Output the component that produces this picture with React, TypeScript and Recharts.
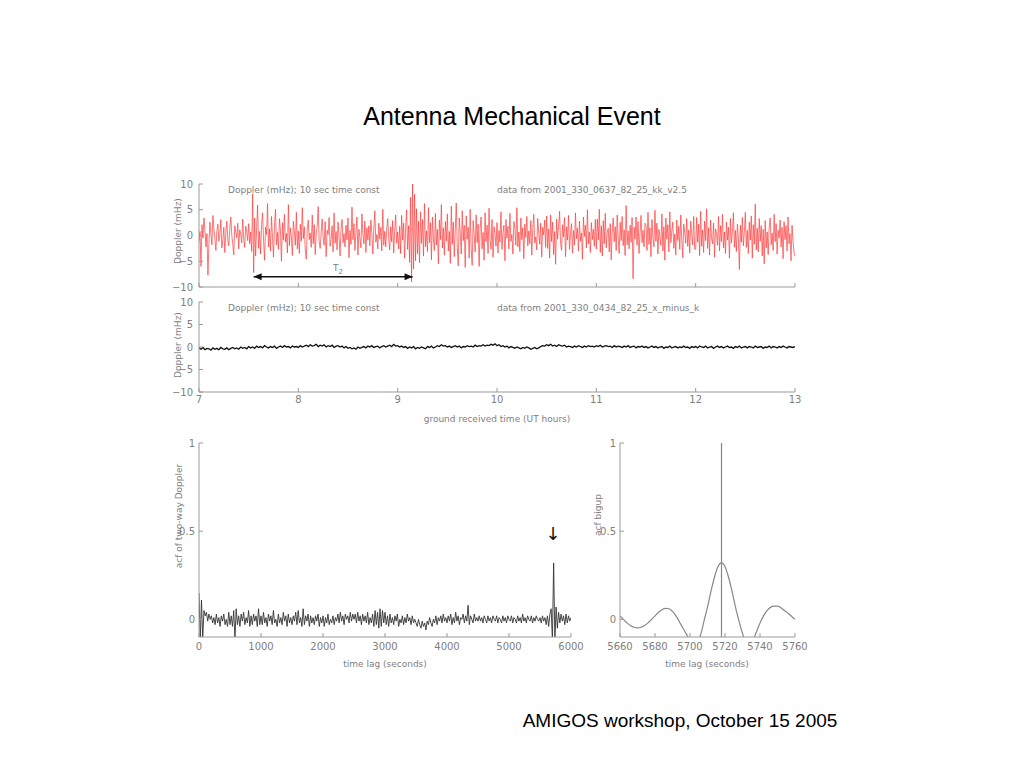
import React from 'react';
import { LineChart, Line, XAxis, YAxis, ReferenceLine, ReferenceDot } from 'recharts';

// ---------- data ----------
// two-way Doppler (mHz), evenly sampled from 7 h to 13 h UT
const RED_START = 7;
const RED_END = 13;
const redDoppler = [
  -1.2, 0.8, -6.0, 2.1, -0.5, 3.4, 1.0, -2.2, 0.4, -7.7, -1.5, 2.6, 0.3, -1.8, 3.9, 1.2, -0.6, -2.9, 0.9, 2.2, -1.1, 0.2, 3.1, -2.4, -0.8, 1.6, -3.3, 0.5, 2.8, -0.9, -2.0, 1.3, 3.6, 0.1, -1.7, -3.8, 1.9, 0.6, -0.4, 2.4, -2.6, 1.1, 0.3, -1.4, 3.2, -0.7, -2.3, 1.8, 0.9, -1.0,
  2.3, -1.6, 0.7, -3.1, 8.1, -7.2, 3.4, -4.0, 1.2, 5.9, -2.5, 0.8, -3.6, 2.1, 4.4, -1.0, -4.8, 1.6, 0.2, 6.2, -2.2, 1.3, -3.0, 3.7, -0.5, -4.2, 2.0, 5.1, -1.8, 0.6, -2.7, 3.3, 1.0, -5.0, 2.5, -0.9, 4.1, -1.3, 0.4, -3.4, 6.0, -2.0, 1.5, -0.3, -3.9, 2.8, 0.7, -1.9, 4.5, -2.6,
  0.9, -3.5, 2.2, -1.1, 5.4, -0.6, 1.7, -2.9, -4.6, 1.4, 3.0, -0.8, 0.5, -2.3, 4.0, -1.6, 2.1, -3.7, 0.3, 1.8, 5.6, -1.2, -2.5, 0.6, 3.2, -0.4, -1.9, 2.7, -4.1, 1.0, 0.2, 3.5, -2.1, -0.7, 1.9, -3.2, 4.4, -1.5, 0.8, -2.8, 2.6, -0.2, -4.0, 1.2, 3.1, -1.4, 0.4, -2.2, 2.0, -0.9,
  3.4, -4.3, 1.0, -1.7, 5.5, -0.8, 2.3, -2.9, 0.6, 3.6, -3.8, 1.2, -0.5, -2.4, 4.2, 0.3, -1.6, 2.8, -3.3, 1.5, -0.9, 1.9, -2.0, 3.0, 0.4, -3.6, 1.1, 4.8, -1.3, 0.2, -2.6, 2.4, -0.7, 1.6, -3.0, 5.1, -1.9, 0.8, -2.2, 1.3, 3.3, -0.6, -2.8, 1.7, -1.2, 2.9, -3.4, 0.9, 4.0, -1.5,
  0.7, -2.6, 1.8, -3.5, 3.9, -0.9, 2.4, -4.4, 1.3, 5.0, -2.7, 1.9, -5.2, 7.4, -9.0, 10.0, -6.5, 8.0, -4.9, 5.2, -3.6, 2.8, -5.3, 4.6, -1.5, 3.1, -4.0, 6.2, -2.2, 0.9, -3.1, 5.4, -1.4, 2.5, -4.7, 3.6, -0.6, -2.9, 4.3, -1.8, 1.2, -5.5, 3.0, -0.8, 6.0, -2.4, 1.5, -3.8, 2.7, -1.1,
  4.2, -3.0, 0.8, -5.4, 5.7, -1.7, 2.6, -4.1, 1.1, 6.3, -2.3, -5.9, 3.4, 0.5, -3.6, 4.8, -1.0, 2.0, -6.2, 3.8, -0.7, 1.6, -4.4, 5.1, -2.5, -5.8, 2.9, 0.3, -3.2, 4.0, -1.4, 2.2, -6.0, 1.4, 3.6, -2.6, 0.6, -4.8, 4.4, -1.2, 2.0, -3.5, 5.3, -0.9, -2.7, 3.1, -4.2, 1.7, 0.4, -2.1,
  2.5, -3.4, 1.0, -1.3, 4.6, -2.7, 0.6, 2.0, -4.9, 3.1, -0.5, 1.8, -2.6, 4.3, -1.1, 0.2, -3.6, 2.7, 1.3, -1.9, 5.4, -2.2, 0.7, -3.1, 3.4, -0.8, 1.5, -4.5, 2.2, -0.4, 3.7, -2.0, 0.9, -1.6, 2.9, -3.8, 1.2, 4.1, -1.4, -0.3, -2.8, 3.3, 0.5, -1.7, 2.4, -4.2, 1.6, 0.1, 3.0, -2.3,
  3.8, -2.5, 1.3, -4.4, 4.0, -1.2, 2.6, -3.7, 0.8, -5.6, 3.2, -0.7, 1.9, 4.7, -1.5, -2.9, 2.1, -0.3, 3.5, -4.1, 1.7, -0.9, 3.9, -2.7, 0.4, 2.3, -3.4, 1.0, -1.8, 4.4, -0.6, 1.4, -3.0, 2.8, -1.1, 0.5, -4.6, 3.6, -0.2, 2.0, -2.4, 5.0, -1.6, 0.7, -3.3, 2.5, -0.8, 1.2, -2.1, 3.1,
  -2.6, 3.2, -0.9, 5.1, -3.3, 1.9, -4.0, 2.9, -1.6, 4.3, -2.4, 0.6, 1.4, -3.2, 2.3, -4.7, 0.8, 3.4, -1.2, 1.7, -2.9, 4.0, -0.5, -3.5, 2.6, -1.0, 3.7, -2.0, 1.1, -3.9, 5.8, -1.8, 0.9, -2.6, 2.0, -1.3, 3.5, -8.4, 1.6, -0.7, 3.6, -1.9, 2.7, -3.5, 0.4, 3.9, -1.4, 1.0, -2.2, 2.4,
  2.0, -2.9, 4.5, -1.7, 1.5, -4.1, 3.1, -0.6, -2.2, 4.9, -1.1, 2.4, -3.6, 1.2, -0.4, -1.9, 4.2, -3.0, 1.7, -4.8, 3.4, -0.7, 2.1, -3.2, 4.6, -1.4, 0.9, 2.6, -2.5, 0.3, -3.8, 3.0, -1.0, 1.8, -2.7, 4.0, -0.8, -4.3, 2.2, 0.6, -1.5, 3.3, -2.1, 1.1, -3.4, 2.8, 0.2, -1.8, 3.7, -2.6,
  -2.7, 3.5, -1.3, 2.2, -3.9, 4.7, -2.1, 1.1, -3.3, 2.8, -1.0, 5.2, -2.5, 1.5, -3.8, 3.0, -0.6, -1.6, 2.4, -4.2, 1.3, 0.4, -1.9, 3.7, -3.0, 1.9, -1.2, 4.1, -2.4, 0.7, -3.5, 2.6, -0.9, 1.6, -4.4, 3.3, -1.5, 0.8, 4.4, -2.3, 1.0, -3.1, 2.2, -0.4, -6.6, 2.0, -1.3, 3.5, -2.0, 0.6,
  4.5, -2.3, 1.0, -3.5, 2.6, -0.9, 3.8, -4.4, 2.1, -1.7, 6.1, -2.8, 1.4, -3.2, 3.3, -1.1, 1.9, -4.0, 1.2, -5.5, 2.9, -2.4, 0.7, -3.7, 1.5, 3.4, -1.8, 0.5, -2.9, 4.1, -1.2, 2.3, -3.6, 1.0, -0.5, 3.0, -2.2, 1.6, -4.5, 2.7, -0.8, 1.9, -3.0, 3.6, -1.6, 0.4, -4.9, 2.0, -1.0, -3.2,
  -4.0,
];

// x_minus_k Doppler (mHz), evenly sampled from 7 h to 13 h UT
const BLACK_START = 7;
const BLACK_END = 13;
const blackDoppler = [
  -0.2, -0.5, -0.1, -0.6, -0.3, -0.4, -0.7, -0.2, -0.5, -0.3, -0.6, -0.1, -0.4, -0.5, -0.2, -0.6, -0.3, -0.1, -0.4, -0.2, -0.5, 0.0, -0.3, -0.1, -0.4, 0.1, -0.2, 0.0, -0.3, 0.2, -0.1, 0.1, -0.2, 0.3, 0.0, -0.2, 0.1, -0.1, 0.2, -0.3, 0.0, 0.2, -0.1, 0.3, 0.0, 0.1, -0.2, 0.2, 0.0, 0.1,
  -0.1, 0.3, 0.0, 0.2, 0.4, 0.1, 0.5, 0.2, 0.3, 0.6, 0.1, 0.4, 0.2, 0.5, 0.0, 0.3, 0.1, 0.4, -0.1, 0.2, 0.3, 0.0, 0.2, -0.2, 0.1, -0.3, -0.1, -0.4, -0.2, -0.5, 0.0, -0.3, -0.1, 0.1, -0.2, 0.2, 0.0, 0.3, -0.1, 0.1, 0.2, -0.2, 0.1, 0.3, 0.0, 0.2, 0.4, 0.1, 0.6, 0.2,
  0.3, 0.0, 0.2, -0.1, 0.1, -0.3, 0.0, -0.2, 0.1, -0.4, -0.1, -0.3, 0.0, -0.2, -0.4, 0.1, -0.1, 0.2, -0.2, 0.0, 0.3, 0.1, 0.5, 0.2, 0.3, 0.0, 0.2, -0.1, 0.1, 0.3, 0.0, 0.2, -0.2, 0.1, 0.0, 0.3, 0.1, 0.2, 0.0, 0.4, 0.1, 0.3, 0.2, 0.5, 0.2, 0.4, 0.3, 0.6, 0.4, 0.7,
  0.3, 0.5, 0.1, 0.3, 0.0, 0.2, -0.2, 0.1, -0.1, -0.3, 0.0, -0.2, -0.4, -0.1, -0.3, 0.0, -0.2, -0.5, -0.3, -0.1, -0.4, -0.2, 0.1, 0.3, 0.2, 0.5, 0.3, 0.6, 0.2, 0.4, 0.1, 0.5, 0.3, 0.2, 0.4, 0.0, 0.2, 0.1, -0.1, 0.2, 0.0, 0.3, 0.1, -0.1, 0.2, 0.0, 0.3, 0.1, 0.2, 0.0,
  0.3, 0.1, 0.4, 0.0, 0.2, 0.3, 0.1, 0.2, -0.1, 0.3, 0.0, 0.2, 0.1, -0.1, 0.2, 0.0, 0.3, -0.1, 0.1, 0.2, -0.2, 0.1, 0.0, 0.2, -0.1, 0.1, -0.2, 0.0, 0.2, -0.1, 0.1, -0.2, 0.0, 0.1, -0.3, 0.0, -0.1, 0.2, -0.2, 0.0, 0.1, -0.2, 0.0, -0.1, 0.2, -0.1, 0.0, -0.3, 0.1, -0.1,
  0.1, -0.2, 0.2, 0.0, -0.1, 0.2, -0.2, 0.0, 0.1, -0.3, 0.0, 0.2, -0.1, 0.1, -0.2, 0.0, 0.2, -0.1, 0.0, -0.3, 0.1, -0.1, 0.2, -0.2, 0.0, 0.1, -0.2, 0.1, 0.0, -0.2, 0.2, -0.1, 0.0, 0.1, -0.3, 0.0, -0.1, 0.2, -0.2, 0.1, 0.0, -0.2, 0.1, -0.1, 0.2, 0.0, -0.2, 0.1, 0.0, -0.1,
  0.1,
];

// autocorrelation of two-way Doppler, lag 0 .. 6000 s
const ACF_START = 0;
const ACF_END = 6000;
const acfValues = [
  0.15, -0.12, 0.11, -0.11, 0.05, 0.02, 0.04, -0.01, 0.03, 0.0, 0.02, -0.02, 0.01, -0.03, 0.03, -0.02, 0.01, -0.04, 0.02, -0.01, 0.03, -0.03, 0.0, -0.04, 0.04,
  -0.03, 0.02, -0.04, 0.05, -0.11, 0.06, -0.03, 0.02, -0.04, 0.03, -0.01, 0.04, -0.03, 0.01, -0.02, 0.05, -0.04, 0.02, -0.03, 0.03, -0.01, 0.02, -0.04, 0.06, -0.03,
  0.02, -0.03, 0.04, -0.02, 0.01, -0.04, 0.03, -0.01, 0.02, -0.03, 0.05, -0.02, 0.0, -0.04, 0.03, -0.02, 0.01, -0.03, 0.04, -0.01, 0.02, -0.04, 0.03, -0.02, 0.01,
  -0.03, 0.02, -0.01, 0.04, -0.03, 0.05, -0.02, 0.01, -0.04, 0.06, -0.03, 0.02, -0.01, 0.03, -0.04, 0.02, -0.02, 0.01, -0.03, 0.02, -0.01, 0.03, -0.04, 0.01, -0.02,
  0.02, -0.04, 0.01, -0.02, 0.03, -0.03, 0.0, -0.02, 0.02, -0.03, 0.01, -0.01, 0.03, -0.02, 0.04, -0.01, 0.02, -0.03, 0.03, 0.0, 0.02, -0.02, 0.04, -0.01, 0.03,
  0.0, 0.03, -0.02, 0.04, -0.01, 0.02, -0.03, 0.03, -0.01, 0.02, -0.02, 0.04, -0.03, 0.01, -0.02, 0.03, -0.04, 0.05, -0.03, 0.04, -0.05, 0.06, -0.04, 0.05, -0.02,
  0.04, -0.03, 0.02, -0.04, 0.03, -0.02, 0.01, -0.03, 0.02, -0.01, 0.03, -0.04, 0.0, -0.02, 0.02, -0.03, 0.01, -0.02, 0.03, -0.01, 0.01, -0.03, 0.02, -0.02, 0.0,
  -0.02, -0.04, 0.0, -0.03, -0.05, -0.01, -0.04, -0.02, -0.06, -0.01, -0.03, 0.01, -0.02, -0.04, 0.0, -0.02, 0.02, -0.03, 0.01, -0.01, 0.02, -0.02, 0.03, -0.01, 0.01,
  -0.02, 0.02, -0.01, 0.03, -0.03, 0.01, -0.02, 0.04, -0.01, 0.02, -0.03, 0.01, 0.0, 0.03, -0.02, 0.02, -0.01, 0.08, -0.03, 0.02, 0.0, -0.02, 0.03, -0.01, 0.01,
  -0.01, 0.02, -0.01, 0.01, -0.02, 0.02, 0.0, -0.02, 0.02, -0.01, 0.01, -0.02, 0.02, 0.0, -0.01, 0.02, -0.02, 0.01, 0.0, -0.02, 0.02, -0.01, 0.01, -0.02, 0.02,
  0.0, -0.01, 0.02, -0.02, 0.01, 0.0, -0.02, 0.02, -0.01, 0.01, -0.02, 0.03, -0.01, 0.01, -0.02, 0.02, 0.0, -0.01, 0.02, -0.02, 0.01, -0.01, 0.02, 0.0, -0.01,
  0.01, -0.02, 0.02, -0.01, 0.01, -0.03, 0.02, -0.04, 0.03, 0.06, -0.12, 0.32, -0.12, 0.07, -0.05, 0.04, -0.02, 0.03, -0.01, 0.02, -0.03, 0.03, -0.02, 0.02, -0.01,
  0.01,
];

// acf blow-up around the 5718 s peak
const BIG_START = 5660;
const BIG_END = 5760;
const bigupValues = [
  0.02, 0.0, -0.02, -0.035, -0.045, -0.048, -0.045, -0.035, -0.02, 0.0, 0.02, 0.04, 0.055, 0.062, 0.06, 0.045, 0.02, -0.015, -0.05, -0.085, -0.115,
  -0.15, -0.14, -0.09, -0.01, 0.07, 0.16, 0.24, 0.3, 0.32, 0.3, 0.24, 0.16, 0.07, -0.01, -0.08, -0.13, -0.15, -0.12, -0.07, -0.02,
  0.02, 0.05, 0.068, 0.075, 0.075, 0.066, 0.05, 0.035, 0.018, 0.0,
];

const hourTicks = [7, 8, 9, 10, 11, 12, 13];
const dopplerTicks = [-10, -5, 0, 5, 10];
const acfTicks = [0, 0.5, 1];
const lagTicks = [0, 1000, 2000, 3000, 4000, 5000, 6000];
const bigLagTicks = [5660, 5680, 5700, 5720, 5740, 5760];

const T2_START = 7.55;
const T2_END = 9.15;
const T2_LEVEL = -8;
const PEAK_LAG = 5718;

const build = (vals: number[], start: number, end: number) => {
  const step = (end - start) / (vals.length - 1);
  return vals.map((v, i) => ({ t: Math.round((start + i * step) * 10000) / 10000, v }));
};

const redData = build(redDoppler, RED_START, RED_END);
const blackData = build(blackDoppler, BLACK_START, BLACK_END);
const acfData = build(acfValues, ACF_START, ACF_END);
const bigData = build(bigupValues, BIG_START, BIG_END);

// ---------- styles ----------
const AX = '#9a9a9a';
const TXT = '#808080';
const FONT = 'DejaVu Sans';
const tickStyle = { fill: TXT, fontSize: 10, fontFamily: FONT };
const blank = () => '';
const minus = (v: number) => String(v).replace('-', '\u2212');

function frame(opts: {
  xDomain: [number, number];
  xTicks: number[];
  yDomain: [number, number];
  yTicks: number[];
  xLabels: boolean;
  xHeight: number;
  yWidth: number;
  xMargin: number;
  yMargin: number;
}) {
  const { xDomain, xTicks, yDomain, yTicks, xLabels, xHeight, yWidth, xMargin, yMargin } = opts;
  return [
    <XAxis
      key="xb"
      xAxisId="b"
      type="number"
      dataKey="t"
      domain={xDomain}
      ticks={xTicks}
      interval={0}
      allowDataOverflow
      height={xHeight}
      stroke={AX}
      tickSize={-4}
      tickMargin={xMargin}
      tick={tickStyle}
      tickFormatter={xLabels ? minus : blank}
    />,
    <XAxis
      key="xt"
      xAxisId="t"
      orientation="top"
      type="number"
      domain={xDomain}
      ticks={xTicks}
      interval={0}
      allowDataOverflow
      height={0}
      stroke={AX}
      tickSize={-4}
      tick={tickStyle}
      tickFormatter={blank}
    />,
    <YAxis
      key="yl"
      yAxisId="l"
      type="number"
      domain={yDomain}
      ticks={yTicks}
      interval={0}
      allowDataOverflow
      width={yWidth}
      stroke={AX}
      tickSize={-4}
      tickMargin={yMargin}
      tick={tickStyle}
      tickFormatter={minus}
    />,
    <YAxis
      key="yr"
      yAxisId="r"
      orientation="right"
      type="number"
      domain={yDomain}
      ticks={yTicks}
      interval={0}
      allowDataOverflow
      width={0}
      stroke={AX}
      tickSize={-4}
      tick={tickStyle}
      tickFormatter={blank}
    />,
  ];
}

const leftHead = (p: any) => (
  <path d={`M${p.cx},${p.cy} l8,-3.5 l0,7 z`} fill="#111" />
);
const rightHead = (p: any) => (
  <path d={`M${p.cx},${p.cy} l-8,-3.5 l0,7 z`} fill="#111" />
);

const abs = (left: number, top: number): React.CSSProperties => ({ position: 'absolute', left, top });

export default function App() {
  const small = { fontFamily: FONT, fontSize: 9, fill: TXT } as const;
  return (
    <div style={{ position: 'absolute', left: 0, top: 0, width: 1024, height: 768, background: '#fff', overflow: 'hidden' }}>
      {/* Panel 1 */}
      <div style={abs(140, 170)}>
        <LineChart width={670} height={130} data={redData} margin={{ top: 14, right: 15, bottom: 0, left: 0 }}>
          {frame({ xDomain: [7, 13], xTicks: hourTicks, yDomain: [-10, 10], yTicks: dopplerTicks, xLabels: false, xHeight: 13, yWidth: 59, xMargin: 8, yMargin: 10 })}
          <Line xAxisId="b" yAxisId="l" dataKey="v" stroke="#ff3b3b" strokeWidth={0.7} dot={false} isAnimationActive={false} />
          <ReferenceLine
            xAxisId="b"
            yAxisId="l"
            segment={[{ x: T2_START, y: T2_LEVEL }, { x: T2_END, y: T2_LEVEL }]}
            stroke="#111"
            strokeWidth={1.6}
          />
          <ReferenceDot xAxisId="b" yAxisId="l" x={T2_START} y={T2_LEVEL} shape={leftHead} />
          <ReferenceDot xAxisId="b" yAxisId="l" x={T2_END} y={T2_LEVEL} shape={rightHead} />
        </LineChart>
      </div>

      {/* Panel 2 */}
      <div style={abs(140, 290)}>
        <LineChart width={670} height={140} data={blackData} margin={{ top: 12, right: 15, bottom: 0, left: 0 }}>
          {frame({ xDomain: [7, 13], xTicks: hourTicks, yDomain: [-10, 10], yTicks: dopplerTicks, xLabels: true, xHeight: 38, yWidth: 59, xMargin: 8, yMargin: 10 })}
          <Line xAxisId="b" yAxisId="l" dataKey="v" stroke="#111" strokeWidth={1.3} dot={false} isAnimationActive={false} />
        </LineChart>
      </div>

      {/* Panel 3 */}
      <div style={abs(130, 435)}>
        <LineChart width={455} height={240} data={acfData} margin={{ top: 8, right: 14, bottom: 0, left: 0 }}>
          {frame({ xDomain: [0, 6000], xTicks: lagTicks, yDomain: [-0.1, 1], yTicks: acfTicks, xLabels: true, xHeight: 38, yWidth: 69, xMargin: 10, yMargin: 8 })}
          <Line xAxisId="b" yAxisId="l" dataKey="v" stroke="#333" strokeWidth={0.9} dot={false} isAnimationActive={false} />
        </LineChart>
      </div>

      {/* Panel 4 */}
      <div style={abs(580, 435)}>
        <LineChart width={230} height={240} data={bigData} margin={{ top: 8, right: 15, bottom: 0, left: 0 }}>
          {frame({ xDomain: [5660, 5760], xTicks: bigLagTicks, yDomain: [-0.1, 1], yTicks: acfTicks, xLabels: true, xHeight: 38, yWidth: 40, xMargin: 10, yMargin: 8 })}
          <ReferenceLine xAxisId="b" yAxisId="l" x={PEAK_LAG} stroke="#888" strokeWidth={1.2} />
          <Line xAxisId="b" yAxisId="l" dataKey="v" type="monotone" stroke="#888" strokeWidth={1.2} dot={false} isAnimationActive={false} />
        </LineChart>
      </div>

      {/* text overlay */}
      <svg width={1024} height={768} style={{ position: 'absolute', left: 0, top: 0, pointerEvents: 'none' }}>
        <text x={512} y={125} textAnchor="middle" fontFamily="Liberation Sans" fontSize={25} fill="#000">
          Antenna Mechanical Event
        </text>
        <text x={680} y={727} textAnchor="middle" fontFamily="Liberation Sans" fontSize={19} fill="#000">
          AMIGOS workshop, October 15 2005
        </text>

        <text x={228} y={193} {...small}>Doppler (mHz); 10 sec time const</text>
        <text x={497} y={193} {...small}>data from 2001_330_0637_82_25_kk_v2.5</text>
        <text x={333} y={271} {...small}>
          T<tspan fontSize={7} dy={3}>2</tspan>
        </text>
        <text transform="translate(178,231) rotate(-90)" textAnchor="middle" dominantBaseline="middle" {...small}>
          Doppler (mHz)
        </text>

        <text x={228} y={311} {...small}>Doppler (mHz); 10 sec time const</text>
        <text x={497} y={311} {...small}>data from 2001_330_0434_82_25_x_minus_k</text>
        <text transform="translate(178,345) rotate(-90)" textAnchor="middle" dominantBaseline="middle" {...small}>
          Doppler (mHz)
        </text>
        <text x={497} y={422} textAnchor="middle" {...small}>ground received time (UT hours)</text>

        <text transform="translate(179,516) rotate(-90)" textAnchor="middle" dominantBaseline="middle" {...small}>
          acf of two-way Doppler
        </text>
        <text x={385} y={667} textAnchor="middle" {...small}>time lag (seconds)</text>
        <text x={553} y={540} textAnchor="middle" fontFamily="DejaVu Sans" fontSize={18} fill="#111">↓</text>

        <text transform="translate(598,515) rotate(-90)" textAnchor="middle" dominantBaseline="middle" {...small}>
          acf bigup
        </text>
        <text x={707} y={667} textAnchor="middle" {...small}>time lag (seconds)</text>
      </svg>
    </div>
  );
}
